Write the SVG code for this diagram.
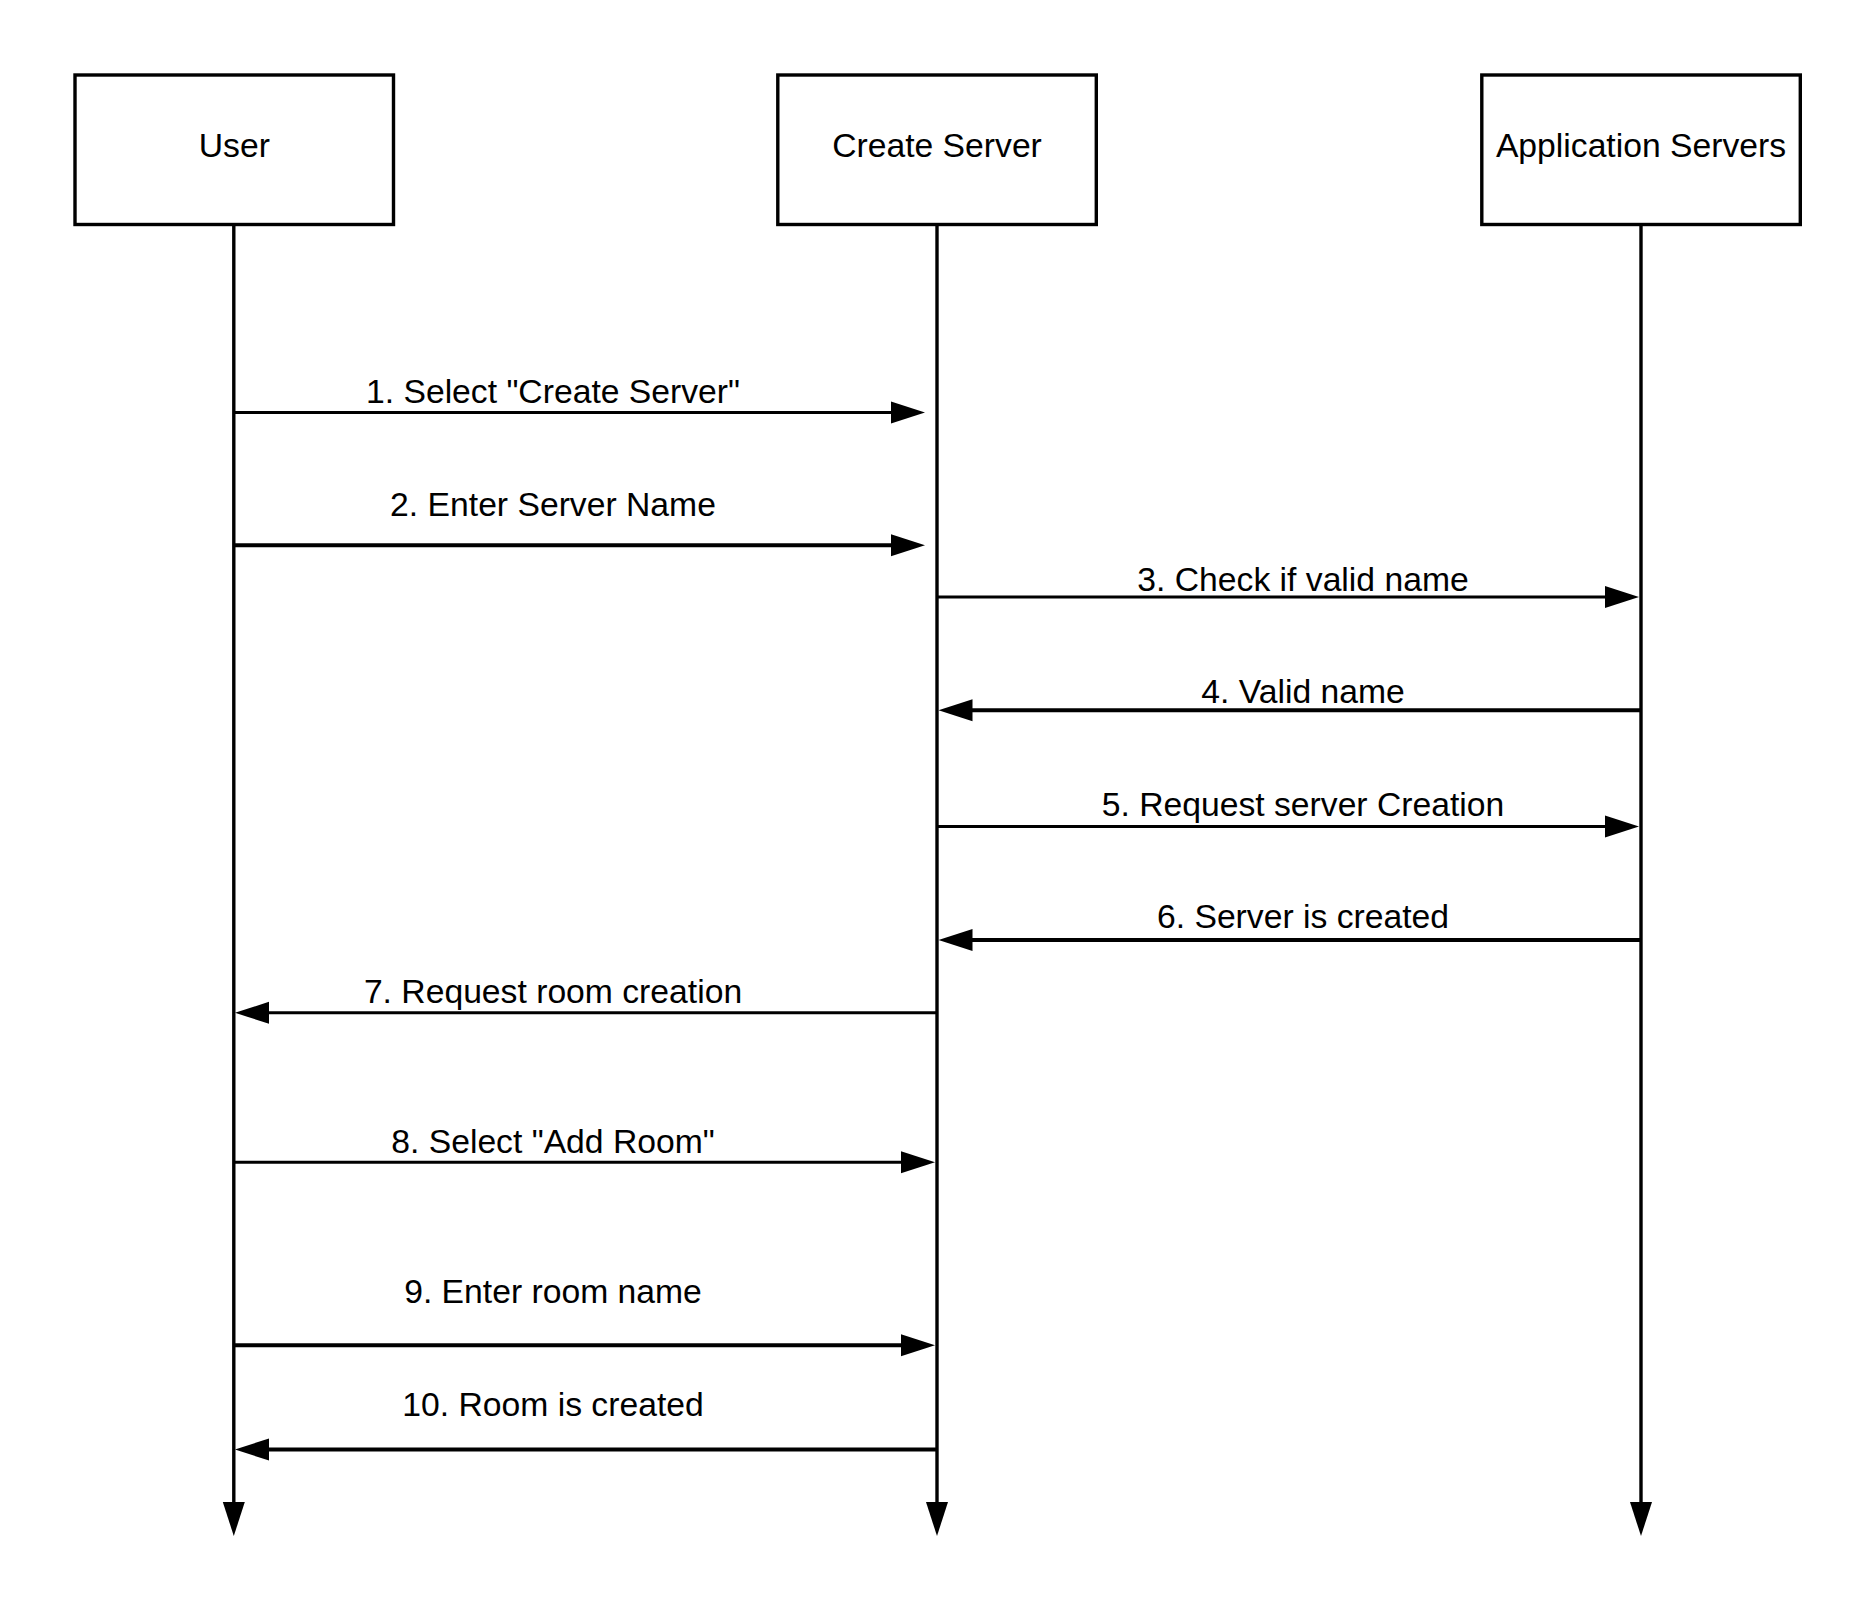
<svg xmlns="http://www.w3.org/2000/svg" width="1875" height="1607" viewBox="0 0 1875 1607">
  <style>
    .box { fill: #ffffff; stroke: #000000; stroke-width: 3.4; }
    .title { font-family: "Liberation Sans", Arial, sans-serif; font-size: 33.7px; fill: #000000; text-anchor: middle; }
    .label { font-family: "Liberation Sans", Arial, sans-serif; font-size: 33.7px; fill: #000000; text-anchor: middle; }
    .life { stroke: #000000; stroke-width: 3.4; fill: none; }
    .msg { stroke: #000000; fill: none; marker-end: url(#head); }
    .thin { stroke-width: 3; }
    .thick { stroke-width: 4; }
  </style>
  <defs>
    <marker id="head" markerUnits="userSpaceOnUse" markerWidth="36" markerHeight="24" viewBox="0 -12 36 24" refX="1" refY="0" orient="auto">
      <path d="M0,-11 L34,0 L0,11 Z" fill="#000000"/>
    </marker>
  </defs>
  <rect width="1875" height="1607" fill="#ffffff"/>

  <!-- participants -->
  <g id="user">
    <rect class="box" x="75" y="75" width="318.5" height="149.5"/>
    <text class="title" x="234.3" y="157">User</text>
  </g>
  <g id="create-server">
    <rect class="box" x="777.8" y="75" width="318.5" height="149.5"/>
    <text class="title" x="937" y="157">Create Server</text>
  </g>
  <g id="application-servers">
    <rect class="box" x="1481.8" y="75" width="318.5" height="149.5"/>
    <text class="title" x="1641" y="157">Application Servers</text>
  </g>

  <!-- lifelines and messages -->
  <g id="connectors">
    <line class="life msg" x1="233.8" y1="226" x2="233.8" y2="1503"/>
    <line class="life msg" x1="937" y1="226" x2="937" y2="1503"/>
    <line class="life msg" x1="1641" y1="226" x2="1641" y2="1503"/>

    <line class="msg thin" x1="233.8" y1="412.5" x2="892" y2="412.5"/>
    <line class="msg thick" x1="233.8" y1="545.3" x2="892" y2="545.3"/>
    <line class="msg thin" x1="937" y1="597" x2="1606" y2="597"/>
    <line class="msg thick" x1="1641" y1="710.3" x2="971.5" y2="710.3"/>
    <line class="msg thin" x1="937" y1="826.5" x2="1606" y2="826.5"/>
    <line class="msg thick" x1="1641" y1="940" x2="971.5" y2="940"/>
    <line class="msg thin" x1="937" y1="1012.8" x2="268" y2="1012.8"/>
    <line class="msg thin" x1="233.8" y1="1162.3" x2="902" y2="1162.3"/>
    <line class="msg thick" x1="233.8" y1="1345.3" x2="902" y2="1345.3"/>
    <line class="msg thick" x1="937" y1="1449.5" x2="268" y2="1449.5"/>
  </g>

  <!-- message labels -->
  <g id="labels">
    <text class="label" x="553" y="403.3">1. Select "Create Server"</text>
    <text class="label" x="553" y="515.5">2. Enter Server Name</text>
    <text class="label" x="1303" y="590.5">3. Check if valid name</text>
    <text class="label" x="1303" y="703">4. Valid name</text>
    <text class="label" x="1303" y="815.5">5. Request server Creation</text>
    <text class="label" x="1303" y="928">6. Server is created</text>
    <text class="label" x="553" y="1003">7. Request room creation</text>
    <text class="label" x="553" y="1152.5">8. Select "Add Room"</text>
    <text class="label" x="553" y="1303">9. Enter room name</text>
    <text class="label" x="553" y="1415.5">10. Room is created</text>
  </g>
</svg>
